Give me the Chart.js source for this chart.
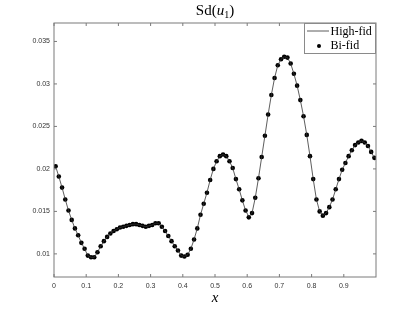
<!DOCTYPE html>
<html>
<head>
<meta charset="utf-8">
<script src="https://cdn.jsdelivr.net/npm/chart.js@4.4.1/dist/chart.umd.min.js"></script>
<style>
html,body{margin:0;padding:0;background:#fff;}
canvas{display:block;}
</style>
</head>
<body>
<canvas id="c" width="415" height="312"></canvas>
<script>
const xValues = [0.005,0.015,0.025,0.035,0.045,0.055,0.065,0.075,0.085,0.095,
0.105,0.115,0.125,0.135,0.145,0.155,0.165,0.175,0.185,0.195,
0.205,0.215,0.225,0.235,0.245,0.255,0.265,0.275,0.285,0.295,
0.305,0.315,0.325,0.335,0.345,0.355,0.365,0.375,0.385,0.395,
0.405,0.415,0.425,0.435,0.445,0.455,0.465,0.475,0.485,0.495,
0.505,0.515,0.525,0.535,0.545,0.555,0.565,0.575,0.585,0.595,
0.605,0.615,0.625,0.635,0.645,0.655,0.665,0.675,0.685,0.695,
0.705,0.715,0.725,0.735,0.745,0.755,0.765,0.775,0.785,0.795,
0.805,0.815,0.825,0.835,0.845,0.855,0.865,0.875,0.885,0.895,
0.905,0.915,0.925,0.935,0.945,0.955,0.965,0.975,0.985,0.995];

const highFid = [0.0203,0.0191,0.0178,0.0164,0.0151,0.0140,0.0130,0.0122,0.0113,0.0106,
0.0098,0.0096,0.0096,0.0102,0.0109,0.0115,0.0120,0.0124,0.0127,0.0129,
0.0131,0.0132,0.0133,0.0134,0.0135,0.0135,0.0134,0.0133,0.0132,0.0133,
0.0134,0.0136,0.0136,0.0132,0.0127,0.0121,0.0115,0.0109,0.0104,0.0098,
0.0097,0.0099,0.0106,0.0117,0.0130,0.0146,0.0159,0.0172,0.0187,0.0200,
0.0209,0.0215,0.0217,0.0215,0.0209,0.0201,0.0188,0.0176,0.0163,0.0151,
0.0144,0.0148,0.0166,0.0189,0.0214,0.0239,0.0264,0.0287,0.0307,0.0322,
0.0329,0.0332,0.0331,0.0324,0.0312,0.0298,0.0281,0.0262,0.0240,0.0215,
0.0188,0.0164,0.0150,0.0145,0.0148,0.0155,0.0164,0.0176,0.0188,0.0199,
0.0207,0.0215,0.0222,0.0228,0.0231,0.0233,0.0231,0.0227,0.0220,0.0213];

const biFid = [0.0203,0.0191,0.0178,0.0164,0.0151,0.0140,0.0130,0.0122,0.0113,0.0106,
0.0098,0.0096,0.0096,0.0102,0.0109,0.0115,0.0120,0.0124,0.0127,0.0129,
0.0131,0.0132,0.0133,0.0134,0.0135,0.0135,0.0134,0.0133,0.0132,0.0133,
0.0134,0.0136,0.0136,0.0132,0.0127,0.0121,0.0115,0.0109,0.0104,0.0098,
0.0097,0.0099,0.0106,0.0117,0.0130,0.0146,0.0159,0.0172,0.0187,0.0200,
0.0209,0.0215,0.0217,0.0215,0.0209,0.0201,0.0188,0.0176,0.0163,0.0151,
0.0143,0.0148,0.0166,0.0189,0.0214,0.0239,0.0264,0.0287,0.0307,0.0322,
0.0329,0.0332,0.0331,0.0324,0.0312,0.0298,0.0281,0.0262,0.0240,0.0215,
0.0188,0.0164,0.0150,0.0145,0.0148,0.0155,0.0164,0.0176,0.0188,0.0199,
0.0207,0.0215,0.0222,0.0228,0.0231,0.0233,0.0231,0.0227,0.0220,0.0213];

const xTickValues = [0,0.1,0.2,0.3,0.4,0.5,0.6,0.7,0.8,0.9];
const xTickLabels = ['0','0.1','0.2','0.3','0.4','0.5','0.6','0.7','0.8','0.9'];
const yTickValues = [0.01,0.015,0.02,0.025,0.03,0.035];
const yTickLabels = ['0.01','0.015','0.02','0.025','0.03','0.035'];
const seriesNames = ['High-fid','Bi-fid'];

const AXIS_COLOR = '#7a7a7a';

const frame = {
  id: 'frame',
  afterDatasetsDraw(chart) {
    const {ctx, chartArea: a, scales} = chart;
    ctx.save();
    ctx.strokeStyle = AXIS_COLOR;
    ctx.lineWidth = 1;
    ctx.strokeRect(a.left, a.top, a.right - a.left, a.bottom - a.top);
    const tl = 3;
    ctx.beginPath();
    scales.x.ticks.forEach(t => {
      const px = scales.x.getPixelForValue(t.value);
      ctx.moveTo(px, a.bottom); ctx.lineTo(px, a.bottom - tl);
      ctx.moveTo(px, a.top); ctx.lineTo(px, a.top + tl);
    });
    scales.y.ticks.forEach(t => {
      const py = scales.y.getPixelForValue(t.value);
      ctx.moveTo(a.left, py); ctx.lineTo(a.left + tl, py);
      ctx.moveTo(a.right, py); ctx.lineTo(a.right - tl, py);
    });
    ctx.stroke();
    ctx.restore();
  },
  afterDraw(chart) {
    const {ctx, chartArea: a} = chart;
    ctx.save();
    // title Sd(u_1)
    const cx = (a.left + a.right) / 2;
    const base = 15;
    const f1 = '15px "Liberation Serif"';
    const fi = 'italic 15px "Liberation Serif"';
    const fs = '10px "Liberation Serif"';
    const parts = [['Sd(', f1, 0], ['u', fi, 0], ['1', fs, 3], [')', f1, 0]];
    let total = 0;
    parts.forEach(p => { ctx.font = p[1]; total += ctx.measureText(p[0]).width; });
    let x = cx - total / 2;
    ctx.fillStyle = '#000';
    ctx.textBaseline = 'alphabetic';
    ctx.textAlign = 'left';
    parts.forEach(p => { ctx.font = p[1]; ctx.fillText(p[0], x, base + p[2]); x += ctx.measureText(p[0]).width; });

    // legend
    const ds = chart.data.datasets;
    const lx = a.right - 72, ly = a.top, lw = 72, lh = 31;
    ctx.fillStyle = '#fff';
    ctx.fillRect(lx, ly, lw, lh);
    ctx.strokeStyle = '#8a8a8a';
    ctx.lineWidth = 1;
    ctx.strokeRect(lx + 0.5, ly + 0.5, lw - 1, lh - 1);
    ctx.font = '12px "Liberation Serif"';
    ctx.textBaseline = 'middle';
    ctx.fillStyle = '#000';
    ctx.strokeStyle = ds[0].borderColor;
    ctx.lineWidth = ds[0].borderWidth;
    ctx.beginPath();
    ctx.moveTo(lx + 3, ly + 8); ctx.lineTo(lx + 25, ly + 8);
    ctx.stroke();
    ctx.fillText(ds[0].label, lx + 26.5, ly + 8.5);
    ctx.fillStyle = ds[1].backgroundColor;
    ctx.beginPath();
    ctx.arc(lx + 15, ly + 23, 2, 0, Math.PI * 2);
    ctx.fill();
    ctx.fillStyle = '#000';
    ctx.fillText(ds[1].label, lx + 26.5, ly + 23);
    ctx.restore();
  }
};

new Chart(document.getElementById('c'), {
  type: 'scatter',
  data: {
    datasets: [
      {
        label: seriesNames[0],
        data: xValues.map((v, i) => ({x: v, y: highFid[i]})),
        showLine: true,
        borderColor: '#333333',
        borderWidth: 0.8,
        pointRadius: 0,
        tension: 0
      },
      {
        label: seriesNames[1],
        data: xValues.map((v, i) => ({x: v, y: biFid[i]})),
        showLine: false,
        backgroundColor: '#000000',
        borderColor: '#000000',
        borderWidth: 0,
        pointRadius: 2.3
      }
    ]
  },
  options: {
    responsive: false,
    animation: false,
    devicePixelRatio: 1,
    layout: {padding: {top: 23, right: 39, left: 0, bottom: 0}},
    plugins: {legend: {display: false}, tooltip: {enabled: false}, title: {display: false}},
    scales: {
      x: {
        type: 'linear', min: 0, max: 1,
        grid: {display: false, drawTicks: false, tickLength: 0}, border: {display: false},
        afterBuildTicks: s => { s.ticks = xTickValues.map(v => ({value: v})); },
        afterFit: s => { s.height = 35; },
        ticks: {
          callback: (v, i) => xTickLabels[i],
          font: {family: '"Liberation Sans"', size: 7},
          color: '#333', padding: 5, maxRotation: 0, autoSkip: false
        },
        title: {
          display: true, text: 'x',
          font: {family: '"Liberation Serif"', size: 15, style: 'italic', lineHeight: 1.2},
          color: '#000', padding: {top: 0, bottom: 5}
        }
      },
      y: {
        type: 'linear', min: 0.00728, max: 0.03717,
        grid: {display: false, drawTicks: false, tickLength: 0}, border: {display: false},
        afterBuildTicks: s => { s.ticks = yTickValues.map(v => ({value: v})); },
        afterFit: s => { s.width = 54; },
        ticks: {
          callback: (v, i) => yTickLabels[i],
          font: {family: '"Liberation Sans"', size: 7},
          color: '#333', padding: 4, autoSkip: false
        }
      }
    }
  },
  plugins: [frame]
});
</script>
</body>
</html>
